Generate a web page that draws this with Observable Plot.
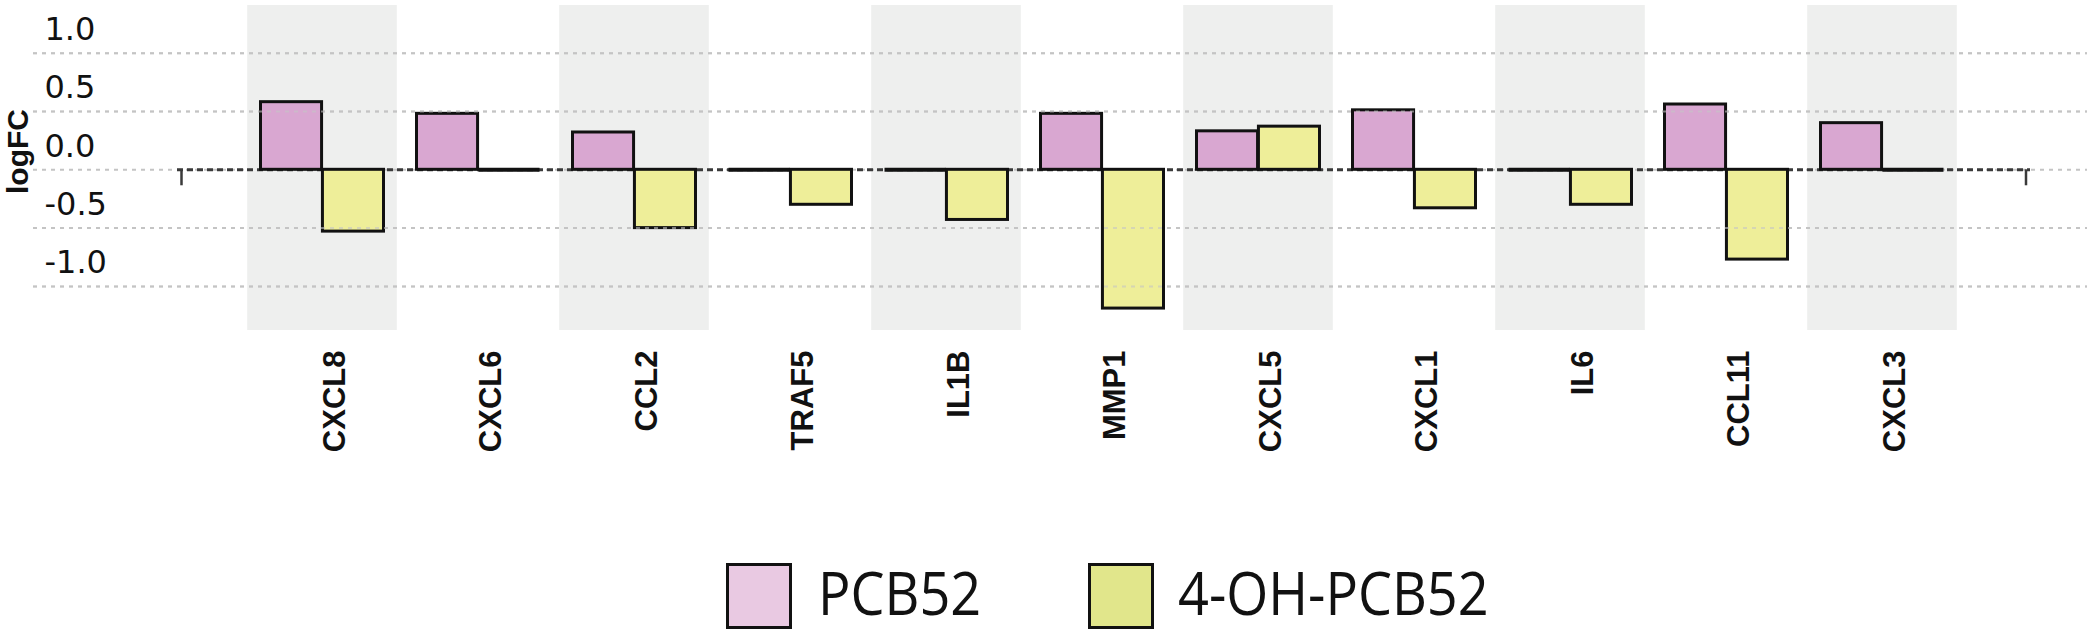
<!DOCTYPE html>
<html>
<head>
<meta charset="utf-8">
<script src="https://cdn.jsdelivr.net/npm/d3@7"></script>
<script src="https://cdn.jsdelivr.net/npm/@observablehq/plot@0.6"></script>
<style>
  body { margin: 0; background: #fff; }
  #legend { position: relative; width: 2087px; height: 96px; font-family: "Open Sans", sans-serif; }
  #legend .sw { position: absolute; width: 60px; height: 60px; border: 3px solid #111; }
  #legend .lb { position: absolute; font-size: 60px; line-height: 60px; color: #111; transform: scaleX(0.9); transform-origin: left center; white-space: nowrap; }
</style>
</head>
<body>
<div id="chart"></div>
<div id="legend"></div>
<script>
// ---- data ----
const genes = ["CXCL8", "CXCL6", "CCL2", "TRAF5", "IL1B", "MMP1", "CXCL5", "CXCL1", "IL6", "CCL11", "CXCL3"];
const pcb52 = [0.58, 0.48, 0.32, 0, 0, 0.48, 0.33, 0.51, 0, 0.56, 0.40];
const ohPcb52 = [-0.53, 0, -0.50, -0.30, -0.43, -1.19, 0.37, -0.33, -0.30, -0.77, 0];
const yTicks = [1.0, 0.5, 0.0, -0.5, -1.0];
const seriesNames = ["PCB52", "4-OH-PCB52"];

const barColors = ["#d9a7d1", "#eeee99"];
const legendColors = ["#e9c9e2", "#e1e68b"];

const rowsA = genes.map((g, i) => ({gene: g, value: pcb52[i], series: seriesNames[0]}));
const rowsB = genes.map((g, i) => ({gene: g, value: ohPcb52[i], series: seriesNames[1]}));
const shaded = genes.filter((g, i) => i % 2 === 0);

const W = 2087, H = 540;
const mL = 239.6, mR = 122, mT = 5, mB = 210;
const half = (W - mL - mR) / genes.length / 2;
const inner = 16.5;

const sans = "Liberation Sans";

const chart = Plot.plot({
  width: W,
  height: H,
  marginLeft: mL,
  marginRight: mR,
  marginTop: mT,
  marginBottom: mB,
  x: {type: "band", domain: genes, padding: 0, axis: null},
  y: {domain: [-1.378, 1.409], axis: null},
  style: {background: "white"},
  marks: [
    Plot.cell(shaded, {x: d => d, fill: "#eeefee", insetLeft: 3.2, insetRight: 3.2, insetTop: 0, insetBottom: 0}),
    Plot.ruleY(yTicks, {stroke: "#c4c4c4", strokeWidth: 2, strokeDasharray: "4,5", insetLeft: -(mL - 33), insetRight: -mR}),
    Plot.ruleY([0], {stroke: "#3a3a3a", strokeWidth: 3, strokeDasharray: "6,4", insetLeft: -62.6, insetRight: -65}),
    Plot.ruleX([genes[0]], {x: d => d, y1: 0, y2: -0.137, dx: -141, stroke: "#3a3a3a", strokeWidth: 2.5}),
    Plot.ruleX([genes[genes.length - 1]], {x: d => d, y1: 0, y2: -0.137, dx: 143.5, stroke: "#3a3a3a", strokeWidth: 2.5}),
    Plot.barY(rowsA.filter(d => d.value !== 0), {x: "gene", y: "value", fill: barColors[0], stroke: "#111", strokeWidth: 3, insetLeft: inner, insetRight: half}),
    Plot.barY(rowsB.filter(d => d.value !== 0), {x: "gene", y: "value", fill: barColors[1], stroke: "#111", strokeWidth: 3, insetLeft: half, insetRight: inner}),
    Plot.tickY(rowsA.filter(d => d.value === 0), {x: "gene", y: "value", stroke: "#111", strokeWidth: 4, insetLeft: inner, insetRight: half}),
    Plot.tickY(rowsB.filter(d => d.value === 0), {x: "gene", y: "value", stroke: "#111", strokeWidth: 4, insetLeft: half, insetRight: inner}),
    Plot.ruleY(yTicks.filter(d => d !== 0), {stroke: "#c4c4c4", strokeOpacity: 0.6, strokeWidth: 2, strokeDasharray: "4,5", insetLeft: -(mL - 33), insetRight: -mR}),
    Plot.text(yTicks, {y: d => d, text: d => d.toFixed(1), frameAnchor: "left", textAnchor: "start", dx: 44 - mL, dy: -23.5, fontSize: 32, fontFamily: "DejaVu Sans", fill: "#111"}),
    Plot.text(["logFC"], {text: d => d, frameAnchor: "top-left", rotate: -90, textAnchor: "middle", lineAnchor: "top", dx: 6 - mL, dy: 151 - mT, fontSize: 30, fontWeight: "bold", fontFamily: sans, fill: "#111"}),
    Plot.text(genes, {x: d => d, text: d => d, frameAnchor: "bottom", rotate: -90, textAnchor: "end", lineAnchor: "top", dy: 20, fontSize: 31, fontWeight: "bold", fontFamily: sans, fill: "#111"})
  ]
});
document.getElementById("chart").appendChild(chart);

// ---- legend ----
const legend = document.getElementById("legend");
const legendPos = [{box: 726, text: 818}, {box: 1088, text: 1178}];
seriesNames.forEach((name, i) => {
  const sw = document.createElement("div");
  sw.className = "sw";
  sw.style.left = legendPos[i].box + "px";
  sw.style.top = "23px";
  sw.style.background = legendColors[i];
  legend.appendChild(sw);
  const lb = document.createElement("div");
  lb.className = "lb";
  lb.style.left = legendPos[i].text + "px";
  lb.style.top = "22px";
  lb.textContent = name;
  legend.appendChild(lb);
});
</script>
</body>
</html>
